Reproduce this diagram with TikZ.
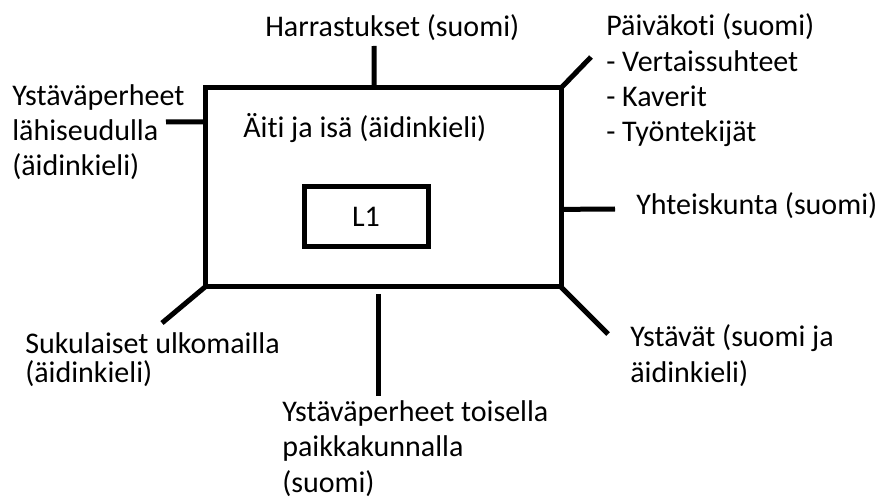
\documentclass[tikz,border=0pt]{standalone}
\usepackage{fontspec}
\setmainfont{Carlito}[Ligatures=NoCommon]
\usetikzlibrary{calc}

\begin{document}
\begin{tikzpicture}[
  x=0.75pt, y=-0.75pt,
  frame/.style={draw, line width=3.75pt, inner sep=0pt, outer sep=0pt},
  spoke/.style={line width=3.75pt},
  lbl/.style={anchor=base west, align=left, inner sep=0pt,
    font=\fontsize{22.5}{26.6}\selectfont}
]
\useasboundingbox (0,0) rectangle (886,499);

% boxes
\node[frame, minimum width=267pt, minimum height=149.25pt] (home) at (383,187.5) {};
\node[frame, minimum width=93pt, minimum height=45pt,
  font=\fontsize{22.5}{26.6}\selectfont] (l1) at (366,217) {L1};

% texts (placed at the baseline of their last line)
\node[lbl] (parents) at (243,138) {Äiti ja isä (äidinkieli)};
\node[lbl] (hobby)   at (265,37)  {Harrastukset (suomi)};
\node[lbl] (daycare) at (606,142) {Päiväkoti (suomi)\\- Vertaissuhteet\\- Kaverit\\- Työntekijät};
\node[lbl] (nearfam) at (12,176)  {Ystäväperheet\\lähiseudulla\\(äidinkieli)};
\node[lbl] (society) at (636,215) {Yhteiskunta (suomi)};
\node[lbl] (friends) at (630,382) {Ystävät (suomi ja\\äidinkieli)};
\node[lbl, font=\fontsize{22.5}{21.75}\selectfont] (kin) at (25,382) {Sukulaiset ulkomailla\\(äidinkieli)};
\node[lbl] (farfam)  at (282,492) {Ystäväperheet toisella\\paikkakunnalla\\(suomi)};

% free ends
\coordinate (hobbyend)   at (374,46);
\coordinate (daycareend) at (591,57);
\coordinate (nearend)    at (166,122);
\coordinate (socend)     at (615,209);
\coordinate (friendsend) at (608,334);
\coordinate (kinend)     at (162,323);
\coordinate (farstart)   at (378,294);
\coordinate (farend)     at (378,396);

\draw[spoke] ($(home.north west)!0.475!(home.north east)$) -- (hobbyend);
\draw[spoke] (home.north east) -- (daycareend);
\draw[spoke] ($(home.north west)!0.17!(home.south west)$) -- (nearend);
\draw[spoke] ($(home.north east)!0.61!(home.south east)$) -- (socend);
\draw[spoke] (home.south east) -- (friendsend);
\draw[spoke] (home.south west) -- (kinend);
\draw[spoke] (farstart) -- (farend);
\end{tikzpicture}
\end{document}
